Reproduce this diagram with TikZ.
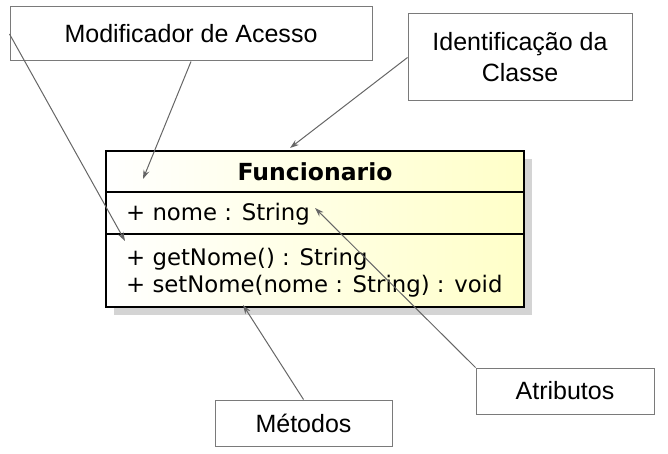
\documentclass[tikz,border=0pt]{standalone}
\usepackage{fontspec}
\setmainfont{Liberation Sans}
\newfontfamily\umlfont{DejaVu Sans}
\usetikzlibrary{arrows.meta,positioning}
\definecolor{notegray}{HTML}{7A7A7A}
\definecolor{linegray}{HTML}{666666}
\definecolor{classyellow}{HTML}{FFFFC8}
\definecolor{shadowgray}{HTML}{D4D4D4}
\tikzset{
  note/.style={draw=notegray,line width=1pt,fill=white,align=center,
    font=\fontsize{25}{31}\selectfont,inner sep=0pt},
  classbox/.style={draw=black,line width=2.8pt,left color=white,right color=classyellow,
    minimum width=418pt,minimum height=156pt,inner sep=0pt},
  member/.style={font=\umlfont\fontsize{22.8}{27}\selectfont,align=left,anchor=west,inner sep=0pt},
  pointer/.style={-{Stealth[length=9pt,width=6pt]},draw=linegray,line width=1pt}
}
\begin{document}
\begin{tikzpicture}[x=1pt,y=-1pt]
  \useasboundingbox (0,0) rectangle (668,454);

  % class box with shadow
  \fill[shadowgray] (114,159) rectangle (532,315);
  \node[classbox] (cls) at (315,229) {};
  \draw[line width=1.4pt] (106,192) -- (524,192);
  \draw[line width=1.4pt] (106,234) -- (524,234);
  \node[font=\umlfont\bfseries\fontsize{23.5}{28}\selectfont,inner sep=0pt] (name) at (315,172) {Funcionario};
  \node[member] (attr) at (126,214) {+ nome : String};
  \node[member] (ops) at (126,273) {+ getNome() : String\\+ setNome(nome : String) : void};

  % notes
  \node[note,minimum width=362pt,minimum height=54pt] (access) at (191,34) {Modificador de Acesso};
  \node[note,minimum width=224pt,minimum height=87pt] (ident) at (520,57.5) {Identificação da\\Classe};
  \node[note,minimum width=178pt,minimum height=46pt] (attrs) at (565,391) {Atributos};
  \node[note,minimum width=177pt,minimum height=46pt] (meth) at (303.5,423) {Métodos};

  % pointer targets
  \coordinate (visib) at (143,179);
  \coordinate (opsvis) at (125,241);
  \coordinate (clstop) at (290,148);
  \coordinate (attrtip) at (315,208);
  \coordinate (opstip) at (243,305);

  \draw[pointer] (access.south) -- (visib);
  \draw[pointer] (access.west) -- (opsvis);
  \draw[pointer] (ident.west) -- (clstop);
  \draw[pointer] (attrs.north west) -- (attrtip);
  \draw[pointer] (meth.north) -- (opstip);
\end{tikzpicture}
\end{document}
